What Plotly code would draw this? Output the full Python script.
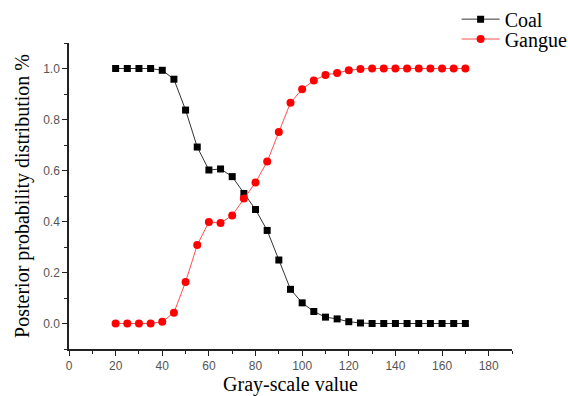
import plotly.graph_objects as go

gray_values = [20, 25, 30, 35, 40, 45, 50, 55, 60, 65, 70, 75, 80, 85, 90, 95, 100,
               105, 110, 115, 120, 125, 130, 135, 140, 145, 150, 155, 160, 165, 170]
coal = [1.0, 1.0, 1.0, 1.0, 0.993, 0.958, 0.837, 0.692, 0.602, 0.606, 0.576, 0.51,
        0.447, 0.365, 0.249, 0.134, 0.081, 0.047, 0.025, 0.018, 0.007, 0.002,
        0.0, 0.0, 0.0, 0.0, 0.0, 0.0, 0.0, 0.0, 0.0]
gangue = [0.0, 0.0, 0.0, 0.0, 0.007, 0.042, 0.163, 0.308, 0.398, 0.394, 0.424, 0.49,
          0.553, 0.635, 0.751, 0.866, 0.919, 0.953, 0.975, 0.982, 0.993, 0.998,
          1.0, 1.0, 1.0, 1.0, 1.0, 1.0, 1.0, 1.0, 1.0]

fig = go.Figure()
fig.add_trace(go.Scatter(x=gray_values, y=coal, name="Coal", mode="lines+markers",
                         line=dict(color="#333333", width=1),
                         marker=dict(symbol="square", size=7, color="black"),
                         legend="legend"))
fig.add_trace(go.Scatter(x=gray_values, y=gangue, name="Gangue", mode="lines+markers",
                         line=dict(color="#ff5050", width=1),
                         marker=dict(symbol="circle", size=8, color="red"),
                         legend="legend2"))

axis_common = dict(showline=True, linecolor="#222222", linewidth=1.5, ticks="outside",
                   ticklen=5, tickwidth=1.2, tickcolor="#222222", showgrid=False,
                   zeroline=False, mirror=False, automargin=False,
                   tickfont=dict(family="Liberation Sans, Arial", size=12, color="#555555"),
                   title_font=dict(family="Liberation Serif, Times New Roman", size=20, color="black"))

legend_common = dict(xanchor="left", yanchor="middle",
                     font=dict(family="Liberation Serif, Times New Roman", size=20, color="black"),
                     bgcolor="rgba(0,0,0,0)", itemwidth=38)

fig.update_layout(
    width=568, height=396,
    margin=dict(l=69, r=56, t=43, b=47, autoexpand=False),
    plot_bgcolor="white", paper_bgcolor="white",
    xaxis=dict(range=[0, 190], dtick=20, tick0=0, title=dict(text="Gray-scale value", standoff=5),
               minor=dict(ticks="outside", ticklen=3, dtick=10, tickcolor="#222222"), **axis_common),
    yaxis=dict(range=[-0.1, 1.1], dtick=0.2, tick0=0, tickformat=".1f",
               title=dict(text="Posterior probability distribution %", standoff=8),
               minor=dict(ticks="outside", ticklen=3, dtick=0.1, tickcolor="#222222"), **axis_common),
    legend=dict(x=0.875, y=1.078, **legend_common),
    legend2=dict(x=0.875, y=1.013, **legend_common),
    showlegend=True,
)

fig.write_html("out.html", config={"displayModeBar": False},
               post_script="document.body.style.margin='0';document.body.style.overflow='hidden';")
